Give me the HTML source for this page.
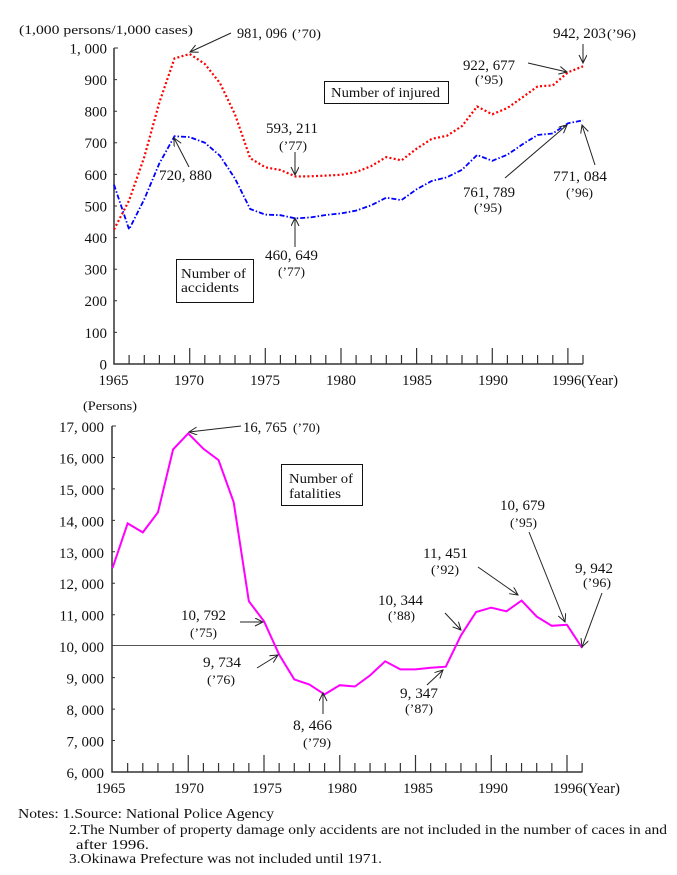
<!DOCTYPE html>
<html>
<head>
<meta charset="utf-8">
<style>
html,body{margin:0;padding:0;background:#fff;}
svg{display:block;}
text{font-family:"Liberation Serif",serif;fill:#111;}
.t{font-size:15px;}
.n{font-size:15px;}
.p{font-size:13px;}
.l{font-size:14px;}
.no{font-size:13.5px;}
</style>
</head>
<body>
<svg width="677" height="875" viewBox="0 0 677 875" xmlns="http://www.w3.org/2000/svg">
<defs>
<marker id="a" markerWidth="10" markerHeight="10" refX="9" refY="4" orient="auto" markerUnits="userSpaceOnUse">
<path d="M1,0 L9,4 L1,8" fill="none" stroke="#222" stroke-width="1"/>
</marker>
</defs>

<!-- ========== TOP CHART ========== -->
<text x="19" y="34" class="p" textLength="174" lengthAdjust="spacingAndGlyphs">(1,000 persons/1,000 cases)</text>

<g class="t" text-anchor="end">
<text x="107" y="53.5">1, 000</text>
<text x="107" y="85">900</text>
<text x="107" y="116.5">800</text>
<text x="107" y="148">700</text>
<text x="107" y="180">600</text>
<text x="107" y="211.5">500</text>
<text x="107" y="243">400</text>
<text x="107" y="274.5">300</text>
<text x="107" y="306">200</text>
<text x="107" y="338">100</text>
<text x="107" y="369.5">0</text>
</g>

<path d="M114 48V364H583" fill="none" stroke="#333" stroke-width="1.5"/>
<path d="M114 48h4M114 79.6h3M114 111.2h3M114 142.8h3M114 174.4h3M114 206h3M114 237.6h3M114 269.2h3M114 300.8h3M114 332.4h3" stroke="#333" stroke-width="1"/>
<path d="M129.1 364V355M144.3 364V355M159.4 364V355M174.5 364V355M189.7 364V348M204.8 364V355M219.9 364V355M235 364V355M250.2 364V355M265.3 364V348M280.4 364V355M295.6 364V355M310.7 364V355M325.8 364V355M341 364V348M356.1 364V355M371.2 364V355M386.3 364V355M401.5 364V355M416.6 364V348M431.7 364V355M446.9 364V355M462 364V355M477.1 364V355M492.3 364V348M507.4 364V355M522.5 364V355M537.6 364V355M552.8 364V355M567.9 364V348M583 364V355" stroke="#333" stroke-width="1.2"/>

<g class="t" text-anchor="middle">
<text x="113.5" y="385">1965</text>
<text x="189" y="385">1970</text>
<text x="265" y="385">1975</text>
<text x="341" y="385">1980</text>
<text x="417" y="385">1985</text>
<text x="493" y="385">1990</text>
</g>
<text x="552" y="385" class="t" textLength="66" lengthAdjust="spacingAndGlyphs">1996(Year)</text>

<polyline fill="none" stroke="#ff0000" stroke-width="2.2" stroke-dasharray="2 2.3"
points="114,229.5 129.1,200.4 144.3,156.9 159.4,102.3 174.5,58.4 189.7,54 204.8,63.9 219.9,83 235,114.4 250.2,158.2 265.3,167.3 280.4,170 295.6,176.5 310.7,176.3 325.8,175.6 341,174.8 356.1,172.1 371.2,166.1 386.3,157.1 401.5,160.4 416.6,148.7 431.7,138.9 446.9,135.8 462,126.1 477.1,106.5 492.3,114.3 507.4,108 522.5,97.3 537.6,86.4 552.8,85.4 567.9,72.4 583,66.3"/>

<polyline fill="none" stroke="#0000ff" stroke-width="1.8" stroke-dasharray="5 2 1.5 2"
points="114,184.7 129.1,229.4 144.3,199.2 159.4,163.3 174.5,136.2 189.7,137.1 204.8,142.7 219.9,155.7 235,178.6 250.2,209 265.3,214.6 280.4,215.2 295.6,218.4 310.7,217.4 325.8,215 341,213.4 356.1,210.6 371.2,205.3 386.3,197.7 401.5,200.1 416.6,189.3 431.7,181 446.9,177.3 462,169.8 477.1,155 492.3,160.8 507.4,154.7 522.5,144.3 537.6,135 552.8,133.5 567.9,123.3 583,120.3"/>

<rect x="324.5" y="81.5" width="124" height="22" fill="#fff" stroke="#111" stroke-width="1"/>
<text x="331" y="97" class="l" textLength="109" lengthAdjust="spacingAndGlyphs">Number of injured</text>
<rect x="176.5" y="259.5" width="77" height="43" fill="#fff" stroke="#111" stroke-width="1"/>
<text x="181" y="278" class="l" textLength="65" lengthAdjust="spacingAndGlyphs">Number of</text>
<text x="181" y="292" class="l" textLength="58" lengthAdjust="spacingAndGlyphs">accidents</text>

<text x="237" y="38" class="n" textLength="50" lengthAdjust="spacingAndGlyphs">981, 096</text>
<text x="292" y="38" class="p" textLength="29" lengthAdjust="spacingAndGlyphs">(’70)</text>
<text x="266" y="133" class="n" textLength="52" lengthAdjust="spacingAndGlyphs">593, 211</text>
<text x="279" y="150" class="p" textLength="28" lengthAdjust="spacingAndGlyphs">(’77)</text>
<text x="159" y="180" class="n" textLength="53" lengthAdjust="spacingAndGlyphs">720, 880</text>
<text x="463" y="70" class="n" textLength="52" lengthAdjust="spacingAndGlyphs">922, 677</text>
<text x="475" y="84" class="p" textLength="28" lengthAdjust="spacingAndGlyphs">(’95)</text>
<text x="553" y="38" class="n" textLength="53" lengthAdjust="spacingAndGlyphs">942, 203</text>
<text x="607" y="38" class="p" textLength="29" lengthAdjust="spacingAndGlyphs">(’96)</text>
<text x="463" y="197" class="n" textLength="52" lengthAdjust="spacingAndGlyphs">761, 789</text>
<text x="474" y="212" class="p" textLength="28" lengthAdjust="spacingAndGlyphs">(’95)</text>
<text x="553" y="181" class="n" textLength="54" lengthAdjust="spacingAndGlyphs">771, 084</text>
<text x="566" y="197" class="p" textLength="27" lengthAdjust="spacingAndGlyphs">(’96)</text>
<text x="265" y="260" class="n" textLength="53" lengthAdjust="spacingAndGlyphs">460, 649</text>
<text x="278" y="276" class="p" textLength="27" lengthAdjust="spacingAndGlyphs">(’77)</text>

<g stroke="#222" stroke-width="1" fill="none" marker-end="url(#a)">
<line x1="231" y1="33" x2="190" y2="52"/>
<line x1="295" y1="152" x2="295" y2="175"/>
<line x1="189" y1="167" x2="174" y2="138"/>
<line x1="528" y1="63" x2="567" y2="72"/>
<line x1="583" y1="44" x2="583" y2="63"/>
<line x1="505" y1="178" x2="567" y2="125"/>
<line x1="595" y1="165" x2="582" y2="125"/>
<line x1="295" y1="247" x2="295" y2="218"/>
</g>

<!-- ========== BOTTOM CHART ========== -->
<text x="83" y="410" class="p" textLength="54" lengthAdjust="spacingAndGlyphs">(Persons)</text>

<g class="t" text-anchor="end">
<text x="104" y="432">17, 000</text>
<text x="104" y="463.5">16, 000</text>
<text x="104" y="495">15, 000</text>
<text x="104" y="526.5">14, 000</text>
<text x="104" y="558">13, 000</text>
<text x="104" y="589">12, 000</text>
<text x="104" y="620.5">11, 000</text>
<text x="104" y="652">10, 000</text>
<text x="104" y="683.5">9, 000</text>
<text x="104" y="715">8, 000</text>
<text x="104" y="746.5">7, 000</text>
<text x="104" y="778">6, 000</text>
</g>

<line x1="112" y1="645.5" x2="582" y2="645.5" stroke="#555" stroke-width="1"/>
<path d="M112 426V772H582.5" fill="none" stroke="#333" stroke-width="1.5"/>
<path d="M112 426h4M112 457.5h3M112 488.9h3M112 520.4h3M112 551.8h3M112 583.3h3M112 614.7h3M112 677.6h3M112 709.1h3M112 740.5h3" stroke="#333" stroke-width="1"/>
<path d="M127.65 772V763M142.8 772V763M157.95 772V763M173.1 772V763M188.25 772V755M203.4 772V763M218.55 772V763M233.7 772V763M248.85 772V763M264 772V755M279.15 772V763M294.3 772V763M309.45 772V763M324.6 772V763M339.75 772V755M354.9 772V763M370.05 772V763M385.2 772V763M400.35 772V763M415.5 772V755M430.65 772V763M445.8 772V763M460.95 772V763M476.1 772V763M491.25 772V755M506.4 772V763M521.55 772V763M536.7 772V763M551.85 772V763M567 772V755M582.15 772V763" stroke="#333" stroke-width="1.2"/>

<g class="t" text-anchor="middle">
<text x="110.5" y="793">1965</text>
<text x="189" y="793">1970</text>
<text x="267" y="793">1975</text>
<text x="342" y="793">1980</text>
<text x="418" y="793">1985</text>
<text x="493" y="793">1990</text>
</g>
<text x="553" y="793" class="t" textLength="67" lengthAdjust="spacingAndGlyphs">1996(Year)</text>

<polyline fill="none" stroke="#ff00ff" stroke-width="2"
points="112.5,568.1 127.65,523.4 142.8,532.4 157.95,512.3 173.1,449.4 188.25,433.4 203.4,448.8 218.55,460.1 233.7,502.3 248.85,601.2 264,621.3 279.15,654.6 294.3,679.4 309.45,684.5 324.6,694.4 339.75,685.2 354.9,686.5 370.05,675.4 385.2,661.3 400.35,669.4 415.5,669.4 430.65,667.7 445.8,666.7 460.95,635.4 476.1,612 491.25,607.6 506.4,611.3 521.55,600.6 536.7,616.6 551.85,625.8 567,624.8 582.15,648"/>

<rect x="281.5" y="464.5" width="81" height="41" fill="#fff" stroke="#111" stroke-width="1"/>
<text x="289" y="483" class="l" textLength="64" lengthAdjust="spacingAndGlyphs">Number of</text>
<text x="289" y="498" class="l" textLength="52" lengthAdjust="spacingAndGlyphs">fatalities</text>

<text x="243" y="432" class="n" textLength="44" lengthAdjust="spacingAndGlyphs">16, 765</text>
<text x="293" y="432" class="p" textLength="27" lengthAdjust="spacingAndGlyphs">(’70)</text>
<text x="181" y="620" class="n" textLength="45" lengthAdjust="spacingAndGlyphs">10, 792</text>
<text x="190" y="637" class="p" textLength="27" lengthAdjust="spacingAndGlyphs">(’75)</text>
<text x="203" y="667" class="n" textLength="38" lengthAdjust="spacingAndGlyphs">9, 734</text>
<text x="207" y="684" class="p" textLength="28" lengthAdjust="spacingAndGlyphs">(’76)</text>
<text x="293" y="730" class="n" textLength="39" lengthAdjust="spacingAndGlyphs">8, 466</text>
<text x="303" y="747" class="p" textLength="28" lengthAdjust="spacingAndGlyphs">(’79)</text>
<text x="378" y="605" class="n" textLength="45" lengthAdjust="spacingAndGlyphs">10, 344</text>
<text x="388" y="620" class="p" textLength="27" lengthAdjust="spacingAndGlyphs">(’88)</text>
<text x="400" y="698" class="n" textLength="38" lengthAdjust="spacingAndGlyphs">9, 347</text>
<text x="405" y="713" class="p" textLength="28" lengthAdjust="spacingAndGlyphs">(’87)</text>
<text x="423" y="558" class="n" textLength="45" lengthAdjust="spacingAndGlyphs">11, 451</text>
<text x="431" y="574" class="p" textLength="28" lengthAdjust="spacingAndGlyphs">(’92)</text>
<text x="500" y="510" class="n" textLength="45" lengthAdjust="spacingAndGlyphs">10, 679</text>
<text x="510" y="527" class="p" textLength="27" lengthAdjust="spacingAndGlyphs">(’95)</text>
<text x="575" y="573" class="n" textLength="38" lengthAdjust="spacingAndGlyphs">9, 942</text>
<text x="583" y="587" class="p" textLength="28" lengthAdjust="spacingAndGlyphs">(’96)</text>

<g stroke="#222" stroke-width="1" fill="none" marker-end="url(#a)">
<line x1="241" y1="426" x2="189" y2="432"/>
<line x1="240" y1="622" x2="263" y2="622"/>
<line x1="257" y1="668" x2="278" y2="655"/>
<line x1="323" y1="714" x2="323" y2="693"/>
<line x1="445" y1="613" x2="461" y2="630"/>
<line x1="427" y1="685" x2="443" y2="670"/>
<line x1="478" y1="567" x2="518" y2="595"/>
<line x1="529" y1="532" x2="565" y2="622"/>
<line x1="602" y1="593" x2="582" y2="647"/>
</g>

<text x="18" y="818" class="no" textLength="256" lengthAdjust="spacingAndGlyphs">Notes: 1.Source: National Police Agency</text>
<text x="69" y="834" class="no" textLength="598" lengthAdjust="spacingAndGlyphs">2.The Number of property damage only accidents are not included in the number of caces in and</text>
<text x="76" y="849" class="no" textLength="73" lengthAdjust="spacingAndGlyphs">after 1996.</text>
<text x="69" y="863" class="no" textLength="313" lengthAdjust="spacingAndGlyphs">3.Okinawa Prefecture was not included until 1971.</text>
</svg>
</body>
</html>
